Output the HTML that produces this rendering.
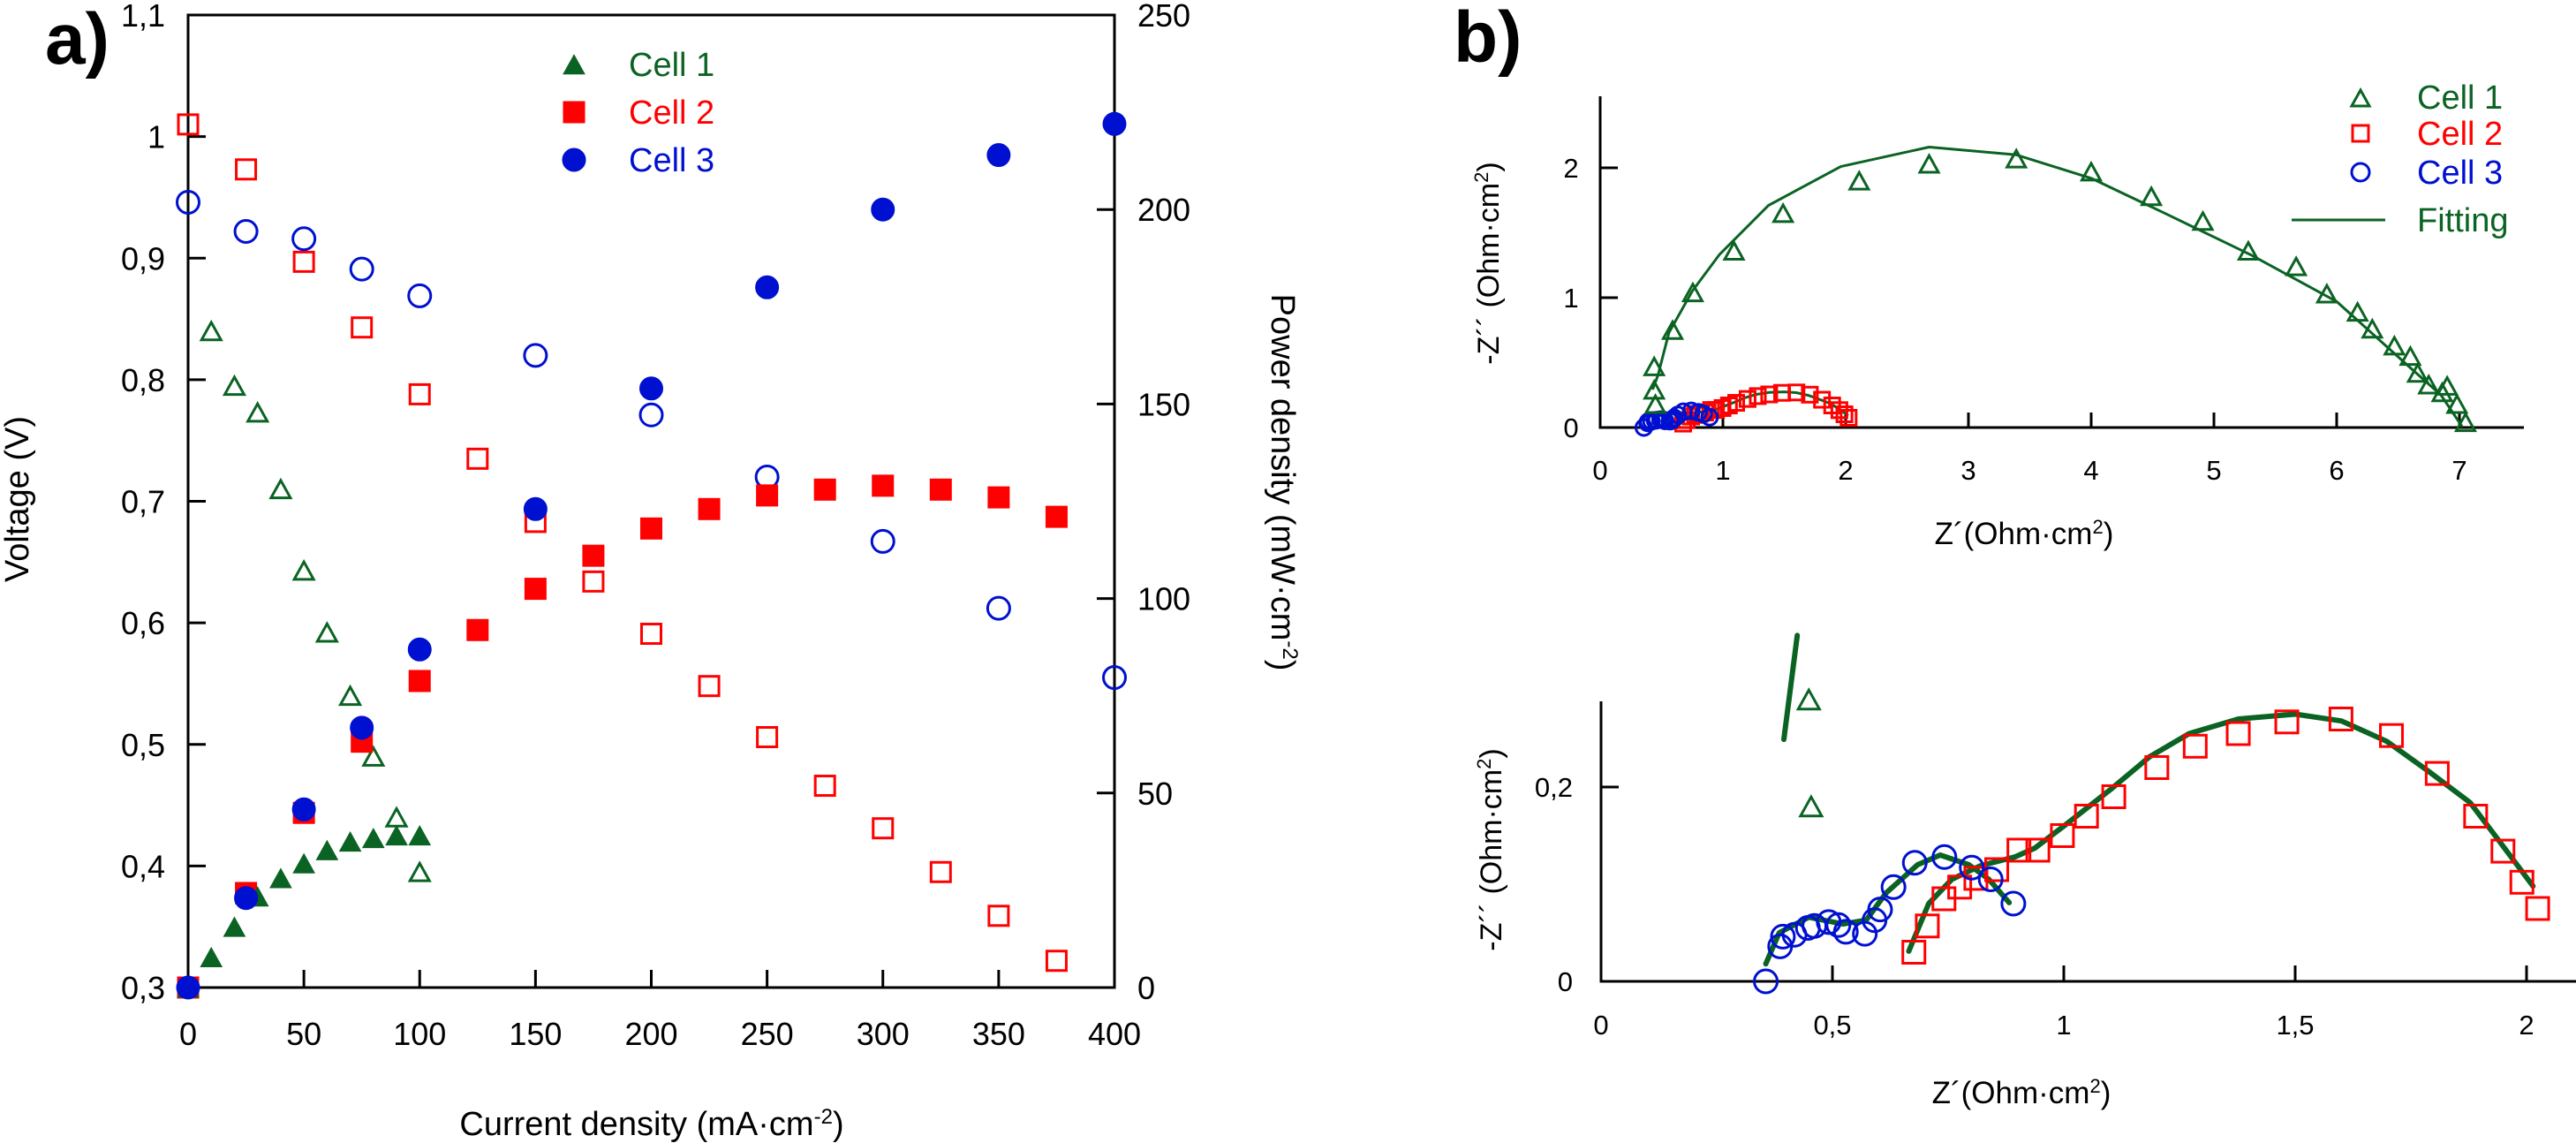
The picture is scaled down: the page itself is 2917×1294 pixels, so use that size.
<!DOCTYPE html>
<html><head><meta charset="utf-8"><style>
html,body{margin:0;padding:0;background:#fff;}
svg{display:block;font-family:"Liberation Sans",sans-serif;}
.n{font-family:"Liberation Sans Narrow","Liberation Sans",sans-serif;font-stretch:condensed;}
</style></head><body>
<svg id="fig" width="2917" height="1294" viewBox="0 0 2917 1294" xmlns="http://www.w3.org/2000/svg">
<g id="pa"></g>
<g id="pbt"></g>
<g id="pbb"></g>
</svg>
<script>
// ---------- Panel a data ----------
const c1I=[10,20,30,40,50,60,70,80,90,100];
const c1V=[0.84,0.795,0.773,0.71,0.643,0.592,0.54,0.49,0.44,0.395];
const c1PI=[0,10,20,30,40,50,60,70,80,90,100];
const c1P=[0,7.8,15.6,23.4,28.1,31.9,35.3,37.5,38.4,39.1,39.1];
const c2I=[0,25,50,75,100,125,150,175,200,225,250,275,300,325,350,375];
const c2V=[1.01,0.973,0.897,0.843,0.788,0.735,0.683,0.634,0.591,0.548,0.506,0.466,0.431,0.395,0.359,0.322];
const c2P=[0,24.3,44.9,63.2,78.8,91.9,102.5,111,118,123,126.5,128,129,128,126,121];
const c3I=[0,25,50,75,100,150,200,250,300,350,400];
const c3V=[0.946,0.922,0.916,0.891,0.869,0.820,0.771,0.720,0.667,0.612,0.555];
const c3P=[0,23,45.8,66.8,86.9,123,154,180,200,214,222];
const aXTicks=[0,50,100,150,200,250,300,350,400];
const aYTicks=[0.3,0.4,0.5,0.6,0.7,0.8,0.9,1,1.1];
const aYLabels=["0,3","0,4","0,5","0,6","0,7","0,8","0,9","1","1,1"];
const aPTicks=[0,50,100,150,200,250];
// ---------- Panel b data ----------
const n1X=[0.44,0.44,0.45,0.59,0.755,1.09,1.49,2.11,2.68,3.39,4.0,4.49,4.91,5.28,5.67,5.92,6.17,6.29,6.47,6.6,6.66,6.75,6.86,6.9,6.98,7.05];
const n1Y=[0.47,0.29,0.18,0.75,1.04,1.36,1.65,1.90,2.03,2.07,1.97,1.78,1.59,1.36,1.24,1.03,0.89,0.76,0.63,0.55,0.42,0.33,0.27,0.32,0.18,0.04];
const f1X=[0.43,0.47,0.56,0.75,0.97,1.37,1.96,2.68,3.39,4.0,4.6,5.3,6.0,6.6,6.85,7.02];
const f1Y=[0.3,0.4,0.73,1.05,1.33,1.71,2.01,2.16,2.10,1.92,1.65,1.33,0.97,0.46,0.25,0.01];
const n2X=[0.676,0.705,0.741,0.775,0.81,0.855,0.903,0.944,0.997,1.049,1.108,1.201,1.284,1.377,1.482,1.599,1.708,1.807,1.89,1.949,1.99,2.024];
const n2Y=[0.03,0.057,0.085,0.097,0.106,0.115,0.135,0.135,0.15,0.17,0.19,0.22,0.242,0.255,0.267,0.27,0.253,0.214,0.17,0.134,0.102,0.075];
const n3X=[0.356,0.387,0.393,0.418,0.447,0.461,0.492,0.513,0.529,0.57,0.591,0.603,0.632,0.678,0.742,0.801,0.842,0.891];
const n3Y=[0.0,0.036,0.046,0.048,0.055,0.057,0.061,0.058,0.051,0.049,0.063,0.074,0.097,0.122,0.128,0.117,0.105,0.08];
const f3X=[0.356,0.385,0.449,0.523,0.573,0.616,0.684,0.733,0.795,0.838,0.882];
const f3Y=[0.018,0.05,0.066,0.059,0.063,0.091,0.12,0.13,0.12,0.105,0.081];
const f2X=[0.665,0.708,0.758,0.82,0.894,0.937,1.006,1.105,1.185,1.271,1.377,1.5,1.6,1.698,1.786,1.878,1.94,2.014];
const f2Y=[0.031,0.08,0.105,0.119,0.128,0.137,0.162,0.199,0.231,0.255,0.27,0.275,0.268,0.247,0.217,0.184,0.145,0.098];
const segX=[0.424,0.395];
const segY=[0.356,0.249];
const btXTicks=[1,2,3,4,5,6,7];
const btYTicks=[0,1,2];
const bbXTicks=[0.5,1,1.5,2];
const bbXLabels=["0,5","1","1,5","2"];
const bbYTicks=[0,0.2];
const bbYLabels=["0","0,2"];

const NS="http://www.w3.org/2000/svg";
const GREEN="#0b6323",RED="#ff0000",BLUE="#0010d0";
function el(parent,tag,attrs,text){const e=document.createElementNS(NS,tag);for(const k in attrs)e.setAttribute(k,attrs[k]);if(text!==undefined)e.textContent=text;parent.appendChild(e);return e;}
function marker(g,shape,x,y,s,col,filled,name){
  let e;
  if(shape==="tri"){const h=s*0.9;e=el(g,"polygon",{points:`${x},${y-h/2} ${x-s/2},${y+h/2} ${x+s/2},${y+h/2}`});}
  else if(shape==="sq"){e=el(g,"rect",{x:x-s/2,y:y-s/2,width:s,height:s});}
  else{e=el(g,"circle",{cx:x,cy:y,r:s/2});}
  e.setAttribute("fill",filled?col:"none");e.setAttribute("stroke",col);e.setAttribute("stroke-width",filled?1:3);
  
  
  return e;
}
function txt(g,x,y,s,attrs,name){const t=el(g,"text",Object.assign({x:x,y:y},attrs),s);return t;}
function line(g,x1,y1,x2,y2,w,col,name){const l=el(g,"line",{x1,y1,x2,y2,stroke:col||"#000","stroke-width":w||3});return l;}
function poly(g,xs,ys,sx,sy,w,col,name){const p=el(g,"polyline",{points:xs.map((v,i)=>sx(v)+","+sy(ys[i])).join(" "),fill:"none",stroke:col,"stroke-width":w,"stroke-linejoin":"round","stroke-linecap":"round"});return p;}

// ---------- Panel a ----------
(function(){
  const g=document.getElementById("pa");
  const L=213,R=1262,T=17,B=1118;
  const sx=v=>L+(v-0)/400*(R-L);
  const sy=v=>B-(v-0.3)/0.8*(B-T);
  const sp=v=>B-v/250*(B-T);
  const fr=el(g,"rect",{x:L,y:T,width:R-L,height:B-T,fill:"none",stroke:"#000","stroke-width":3});
  
  
  aXTicks.forEach(v=>{line(g,sx(v),B,sx(v),B-20,3,"#000","x-tick");txt(g,sx(v),1183,String(v),{"font-size":36,"text-anchor":"middle",class:"n"},"x-tick-label");});
  aYTicks.forEach((v,i)=>{line(g,L,sy(v),L+20,sy(v),3,"#000","y-tick");txt(g,L-26,sy(v)+13,aYLabels[i],{"font-size":36,"text-anchor":"end",class:"n"},"y-tick-label");});
  aPTicks.forEach(v=>{line(g,R,sp(v),R-20,sp(v),3,"#000","power-tick");txt(g,R+26,sp(v)+13,String(v),{"font-size":36,class:"n"},"power-tick-label");});
  txt(g,51,72,"a)",{"font-size":82,"font-weight":"bold"},"panel-a-label");
  const xt=txt(g,738,1285,"Current density (mA·cm",{"font-size":38,"text-anchor":"middle",class:"n"},"x-axis-title");
  el(xt,"tspan",{"baseline-shift":"super","font-size":24},"-2");el(xt,"tspan",{},")");
  txt(g,0,0,"Voltage (V)",{"font-size":38,"text-anchor":"middle",class:"n",transform:"translate(32,565) rotate(-90)"},"y-axis-title");
  const pt=txt(g,0,0,"Power density (mW·cm",{"font-size":38,"text-anchor":"middle",class:"n",transform:"translate(1440,546) rotate(90)"},"power-axis-title");
  el(pt,"tspan",{"baseline-shift":"super","font-size":24},"-2");el(pt,"tspan",{},")");
  // legend
  marker(g,"tri",650,73,24,GREEN,true,"legend-cell1-marker");
  txt(g,712,86,"Cell 1",{"font-size":38,fill:GREEN,class:"n"},"legend-cell1");
  marker(g,"sq",650,127,24,RED,true,"legend-cell2-marker");
  txt(g,712,140,"Cell 2",{"font-size":38,fill:RED,class:"n"},"legend-cell2");
  marker(g,"circ",650,181,26,BLUE,true,"legend-cell3-marker");
  txt(g,712,194,"Cell 3",{"font-size":38,fill:BLUE,class:"n"},"legend-cell3");
  // data
  c2I.forEach((v,i)=>marker(g,"sq",sx(v),sy(c2V[i]),22,RED,false,"cell2-voltage-point"));
  c3I.forEach((v,i)=>marker(g,"circ",sx(v),sy(c3V[i]),25,BLUE,false,"cell3-voltage-point"));
  c1I.forEach((v,i)=>marker(g,"tri",sx(v),sy(c1V[i]),22,GREEN,false,"cell1-voltage-point"));
  c2I.forEach((v,i)=>marker(g,"sq",sx(v),sp(c2P[i]),24,RED,true,"cell2-power-point"));
  c1PI.forEach((v,i)=>marker(g,"tri",sx(v),sp(c1P[i]),24,GREEN,true,"cell1-power-point"));
  c3I.forEach((v,i)=>marker(g,"circ",sx(v),sp(c3P[i]),26,BLUE,true,"cell3-power-point"));
})();

// ---------- Panel b top ----------
(function(){
  const g=document.getElementById("pbt");
  const X0=1812,Y0=484,ux=139,uy=147;
  const sx=v=>X0+v*ux, sy=v=>Y0-v*uy;
  line(g,X0,109,X0,Y0+1.5,3,"#000","y-axis");
  line(g,X0,Y0,2858,Y0,3,"#000","x-axis");
  btXTicks.forEach(v=>{line(g,sx(v),Y0,sx(v),Y0-17,3,"#000","x-tick");});
  [0,1,2,3,4,5,6,7].forEach(v=>txt(g,sx(v),543,String(v),{"font-size":31,"text-anchor":"middle"},"x-tick-label"));
  btYTicks.forEach(v=>{if(v>0)line(g,X0,sy(v),X0+20,sy(v),3,"#000","y-tick");txt(g,1779,sy(v)+11,String(v),{"font-size":31,"text-anchor":"middle"},"y-tick-label");});
  txt(g,1646,70,"b)",{"font-size":82,"font-weight":"bold"},"panel-b-label");
  const yt=txt(g,0,0,"-Z´´ (Ohm·cm",{"font-size":34,"text-anchor":"middle",transform:"translate(1697,298) rotate(-90)"},"y-axis-title");
  el(yt,"tspan",{"baseline-shift":"super","font-size":22},"2");el(yt,"tspan",{},")");
  const xt=txt(g,2292,616,"Z´(Ohm·cm",{"font-size":35,"text-anchor":"middle",class:"n"},"x-axis-title");
  el(xt,"tspan",{"baseline-shift":"super","font-size":22},"2");el(xt,"tspan",{},")");
  // legend
  marker(g,"tri",2673,111,20,GREEN,false,"legend-cell1-marker");
  txt(g,2737,123,"Cell 1",{"font-size":38,fill:GREEN,class:"n"},"legend-cell1");
  marker(g,"sq",2673,151,18,RED,false,"legend-cell2-marker");
  txt(g,2737,164,"Cell 2",{"font-size":38,fill:RED,class:"n"},"legend-cell2");
  marker(g,"circ",2673,195,20,BLUE,false,"legend-cell3-marker");
  txt(g,2737,208,"Cell 3",{"font-size":38,fill:BLUE,class:"n"},"legend-cell3");
  line(g,2595,249,2701,249,3,GREEN,"legend-fitting-line");
  txt(g,2737,262,"Fitting",{"font-size":38,fill:GREEN,class:"n"},"legend-fitting");
  // data
  poly(g,f1X,f1Y,sx,sy,3,GREEN,"cell1-fit-line");
  poly(g,f2X,f2Y,sx,sy,3,GREEN,"cell2-fit-line");
  n2X.forEach((v,i)=>marker(g,"sq",sx(v),sy(n2Y[i]),17,RED,false,"cell2-point"));
  n3X.forEach((v,i)=>marker(g,"circ",sx(v),sy(n3Y[i]),18,BLUE,false,"cell3-point"));
  n1X.forEach((v,i)=>marker(g,"tri",sx(v),sy(n1Y[i]),21,GREEN,false,"cell1-point"));
})();

// ---------- Panel b bottom ----------
(function(){
  const g=document.getElementById("pbb");
  const X0=1813,Y0=1111,ux=524,uy=1100;
  const sx=v=>X0+v*ux, sy=v=>Y0-v*uy;
  line(g,X0,794,X0,Y0+1.5,3,"#000","y-axis");
  line(g,X0,Y0,2917,Y0,3,"#000","x-axis");
  txt(g,X0,1171,"0",{"font-size":31,"text-anchor":"middle"},"x-tick-label");
  bbXTicks.forEach((v,i)=>{line(g,sx(v),Y0,sx(v),Y0-18,3,"#000","x-tick");txt(g,sx(v),1171,bbXLabels[i],{"font-size":31,"text-anchor":"middle"},"x-tick-label");});
  bbYTicks.forEach((v,i)=>{if(v>0)line(g,X0,sy(v),X0+20,sy(v),3,"#000","y-tick");txt(g,1781,sy(v)+11,bbYLabels[i],{"font-size":31,"text-anchor":"end"},"y-tick-label");});
  const yt=txt(g,0,0,"-Z´´ (Ohm·cm",{"font-size":34,"text-anchor":"middle",transform:"translate(1700,962) rotate(-90)"},"y-axis-title");
  el(yt,"tspan",{"baseline-shift":"super","font-size":22},"2");el(yt,"tspan",{},")");
  const xt=txt(g,2289,1249,"Z´(Ohm·cm",{"font-size":35,"text-anchor":"middle",class:"n"},"x-axis-title");
  el(xt,"tspan",{"baseline-shift":"super","font-size":22},"2");el(xt,"tspan",{},")");
  poly(g,segX,segY,sx,sy,6,GREEN,"cell1-fit-segment");
  poly(g,f3X,f3Y,sx,sy,6,GREEN,"cell3-fit-line");
  poly(g,f2X,f2Y,sx,sy,6,GREEN,"cell2-fit-line");
  n2X.forEach((v,i)=>marker(g,"sq",sx(v),sy(n2Y[i]),25,RED,false,"cell2-point"));
  n3X.forEach((v,i)=>marker(g,"circ",sx(v),sy(n3Y[i]),26,BLUE,false,"cell3-point"));
  [0.449,0.454].forEach((v,i)=>marker(g,"tri",sx(v),sy([0.29,0.18][i]),24,GREEN,false,"cell1-point"));
})();
</script>
</body></html>
